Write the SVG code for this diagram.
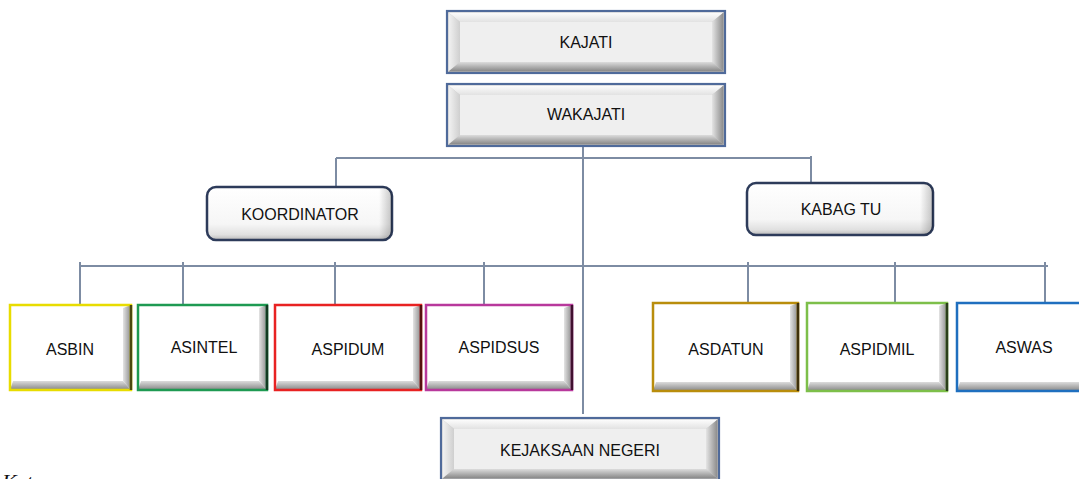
<svg xmlns="http://www.w3.org/2000/svg" xmlns:xlink="http://www.w3.org/1999/xlink" width="1079" height="479" viewBox="0 0 1079 479">
<style>
text{font-family:"Liberation Sans",Arial,sans-serif;font-size:16px;fill:#111;text-anchor:middle}
.ket{font-family:"Liberation Serif","Times New Roman",serif;font-style:italic;font-size:22px;text-anchor:start}
.conn line{stroke:#7d8ca3;stroke-width:2;fill:none}
.rnd{fill:url(#gRound);stroke:#2d3b5a;stroke-width:2.5}
.face{fill:#ffffff}
.bR{fill:url(#gRight)}
.bB{fill:url(#gBottom)}
</style>
<defs>
<linearGradient id="gRound" x1="0" y1="0" x2="0" y2="1">
<stop offset="0" stop-color="#ffffff"/><stop offset="0.7" stop-color="#f6f6f6"/><stop offset="0.9" stop-color="#e0e0e0"/><stop offset="1" stop-color="#b8b8b8"/>
</linearGradient>
<linearGradient id="gRoundSide" x1="0" y1="0" x2="1" y2="0">
<stop offset="0" stop-color="#000" stop-opacity="0"/><stop offset="0.93" stop-color="#000" stop-opacity="0"/><stop offset="1" stop-color="#000" stop-opacity="0.22"/>
</linearGradient>
<linearGradient id="gRight" x1="0" y1="0" x2="1" y2="0">
<stop offset="0" stop-color="#e4e4e4"/><stop offset="1" stop-color="#8a8a8a"/>
</linearGradient>
<linearGradient id="gBottom" x1="0" y1="0" x2="0" y2="1">
<stop offset="0" stop-color="#dcdcdc"/><stop offset="1" stop-color="#858585"/>
</linearGradient>
<linearGradient id="gTopG" x1="0" y1="0" x2="0" y2="1">
<stop offset="0" stop-color="#fdfdfd"/><stop offset="1" stop-color="#e2e2e2"/>
</linearGradient>
<linearGradient id="gLeftG" x1="0" y1="0" x2="1" y2="0">
<stop offset="0" stop-color="#f2f2f2"/><stop offset="1" stop-color="#cfcfcf"/>
</linearGradient>
<g id="grayBox">
<rect x="0" y="0" width="278" height="62" fill="#c8c8c8" stroke="#4f6a9a" stroke-width="2.2"/>
<polygon points="1.5,1.5 276.5,1.5 265,11 13,11" fill="url(#gTopG)"/>
<polygon points="1.5,1.5 13,11 13,51 1.5,60.5" fill="url(#gLeftG)"/>
<polygon points="1.5,60.5 13,51 265,51 276.5,60.5" fill="url(#gBottom)"/>
<polygon points="276.5,1.5 265,11 265,51 276.5,60.5" fill="url(#gRight)"/>
<rect x="13" y="11" width="252" height="40" fill="#efefef"/>
</g>
</defs>
<rect x="0" y="0" width="1079" height="479" fill="#ffffff"/>

<g id="connectors" class="conn">
<line x1="583" y1="146" x2="583" y2="414"/>
<line x1="336" y1="158" x2="812" y2="158"/>
<line x1="336" y1="158" x2="336" y2="187"/>
<line x1="811" y1="156" x2="811" y2="183"/>
<line x1="80" y1="266" x2="1048" y2="266"/>
<line x1="80" y1="262" x2="80" y2="304"/>
<line x1="183" y1="262" x2="183" y2="304"/>
<line x1="335" y1="262" x2="335" y2="304"/>
<line x1="484" y1="262" x2="484" y2="304"/>
<line x1="748" y1="262" x2="748" y2="302"/>
<line x1="895" y1="262" x2="895" y2="302"/>
<line x1="1045" y1="262" x2="1045" y2="302"/>
</g>

<g id="kajati">
<use xlink:href="#grayBox" x="447" y="11"/>
<text x="586" y="48">KAJATI</text>
</g>
<g id="wakajati">
<use xlink:href="#grayBox" x="447" y="84"/>
<text x="586" y="120">WAKAJATI</text>
</g>
<g id="kejaksaan-negeri">
<use xlink:href="#grayBox" x="441" y="418"/>
<text x="580" y="456">KEJAKSAAN NEGERI</text>
</g>

<g id="koordinator">
<rect class="rnd" x="207" y="187" width="185" height="53" rx="9"/>
<rect x="207" y="187" width="185" height="53" rx="9" fill="url(#gRoundSide)"/>
<text x="300" y="220">KOORDINATOR</text>
</g>
<g id="kabag-tu">
<rect class="rnd" x="747" y="183" width="186" height="52" rx="9"/>
<rect x="747" y="183" width="186" height="52" rx="9" fill="url(#gRoundSide)"/>
<text x="841" y="215">KABAG TU</text>
</g>

<g id="asbin" transform="translate(10,305)">
<rect class="face" x="0" y="0" width="121" height="85"/>
<polygon class="bR" points="121,0 113,3 113,76 121,85"/>
<polygon class="bB" points="0,85 3,76 113,76 121,85"/>
<rect x="0" y="0" width="121" height="85" fill="none" stroke="#e8dc00" stroke-width="2.5"/>
<line x1="121" y1="0" x2="121" y2="85" stroke="#4a4810" stroke-width="2.5"/>
<text x="60" y="50">ASBIN</text>
</g>
<g id="asintel" transform="translate(138,305)">
<rect class="face" x="0" y="0" width="129" height="85"/>
<polygon class="bR" points="129,0 121,3 121,76 129,85"/>
<polygon class="bB" points="0,85 3,76 121,76 129,85"/>
<rect x="0" y="0" width="129" height="85" fill="none" stroke="#1e9a52" stroke-width="2.5"/>
<line x1="129" y1="0" x2="129" y2="85" stroke="#123a22" stroke-width="2.5"/>
<text x="66" y="48">ASINTEL</text>
</g>
<g id="aspidum" transform="translate(275,305)">
<rect class="face" x="0" y="0" width="146" height="85"/>
<polygon class="bR" points="146,0 138,3 138,76 146,85"/>
<polygon class="bB" points="0,85 3,76 138,76 146,85"/>
<rect x="0" y="0" width="146" height="85" fill="none" stroke="#e82222" stroke-width="2.5"/>
<line x1="146" y1="0" x2="146" y2="85" stroke="#541010" stroke-width="2.5"/>
<text x="73" y="50">ASPIDUM</text>
</g>
<g id="aspidsus" transform="translate(426,305)">
<rect class="face" x="0" y="0" width="146" height="85"/>
<polygon class="bR" points="146,0 138,3 138,76 146,85"/>
<polygon class="bB" points="0,85 3,76 138,76 146,85"/>
<rect x="0" y="0" width="146" height="85" fill="none" stroke="#b8389c" stroke-width="2.5"/>
<line x1="146" y1="0" x2="146" y2="85" stroke="#401030" stroke-width="2.5"/>
<text x="73" y="48">ASPIDSUS</text>
</g>
<g id="asdatun" transform="translate(653,303)">
<rect class="face" x="0" y="0" width="145" height="88"/>
<polygon class="bR" points="145,0 137,3 137,79 145,88"/>
<polygon class="bB" points="0,88 3,79 137,79 145,88"/>
<rect x="0" y="0" width="145" height="88" fill="none" stroke="#b98d0c" stroke-width="2.5"/>
<line x1="145" y1="0" x2="145" y2="88" stroke="#3e300a" stroke-width="2.5"/>
<text x="73" y="52">ASDATUN</text>
</g>
<g id="aspidmil" transform="translate(807,303)">
<rect class="face" x="0" y="0" width="140" height="88"/>
<polygon class="bR" points="140,0 132,3 132,79 140,88"/>
<polygon class="bB" points="0,88 3,79 132,79 140,88"/>
<rect x="0" y="0" width="140" height="88" fill="none" stroke="#7dbf4a" stroke-width="2.5"/>
<line x1="140" y1="0" x2="140" y2="88" stroke="#2a3e1a" stroke-width="2.5"/>
<text x="70" y="52">ASPIDMIL</text>
</g>
<g id="aswas" transform="translate(957,303)">
<rect class="face" x="0" y="0" width="130" height="88"/>
<polygon class="bB" points="0,88 3,79 130,79 130,88"/>
<rect x="0" y="0" width="130" height="88" fill="none" stroke="#1f6fbf" stroke-width="2.5"/>
<text x="67" y="50">ASWAS</text>
</g>

<text class="ket" x="2" y="489">Keterangan :</text>
</svg>
